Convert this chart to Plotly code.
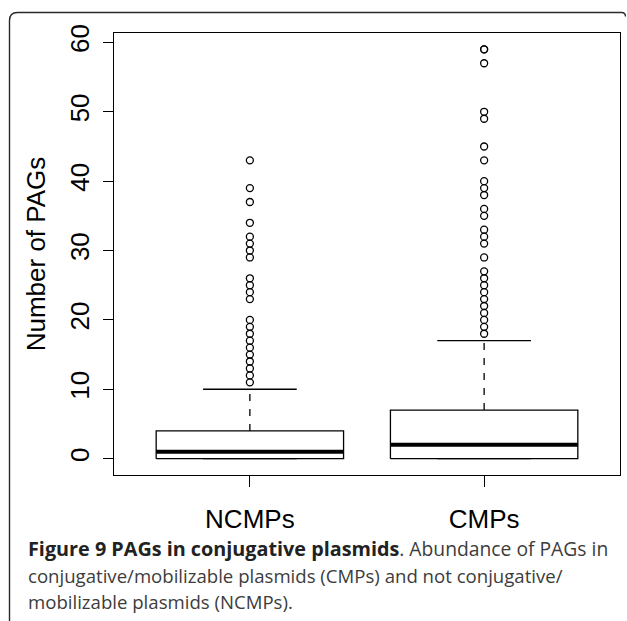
import plotly.graph_objects as go

# ---- data ----
categories = ["NCMPs", "CMPs"]
positions = [1, 2]
q1_vals = [0, 0]
median_vals = [1, 2]
q3_vals = [4, 7]
lower_whisker = [0, 0]
upper_whisker = [10, 17]
outliers_ncmps = [11, 12, 13, 14, 15, 16, 17, 18, 19, 20,
                  23, 24, 25, 26, 29, 30, 31, 32, 34, 37, 39, 43]
outliers_cmps = [18, 19, 20, 21, 22, 23, 24, 25, 26, 27, 29,
                 31, 32, 33, 35, 36, 38, 39, 40, 43, 45, 49, 50, 57, 59, 59]
outliers = [outliers_ncmps, outliers_cmps]
y_ticks = [0, 10, 20, 30, 40, 50, 60]

BOX_HALF = 0.4
STAPLE_HALF = 0.2
LW = 1.3
AXFONT = dict(family="Liberation Sans, Arial, sans-serif", size=26, color="black")

fig = go.Figure()
for i, p in enumerate(positions):
    # box
    fig.add_trace(go.Scatter(
        x=[p - BOX_HALF, p + BOX_HALF, p + BOX_HALF, p - BOX_HALF, p - BOX_HALF],
        y=[q1_vals[i], q1_vals[i], q3_vals[i], q3_vals[i], q1_vals[i]],
        mode="lines", line=dict(color="black", width=LW), hoverinfo="skip"))
    # whiskers (dashed)
    fig.add_trace(go.Scatter(
        x=[p, p], y=[q3_vals[i], upper_whisker[i]], mode="lines",
        line=dict(color="black", width=LW, dash="7px,8px"), hoverinfo="skip"))
    fig.add_trace(go.Scatter(
        x=[p, p], y=[lower_whisker[i], q1_vals[i]], mode="lines",
        line=dict(color="black", width=LW, dash="7px,8px"), hoverinfo="skip"))
    # staples
    fig.add_trace(go.Scatter(
        x=[p - STAPLE_HALF, p + STAPLE_HALF], y=[upper_whisker[i], upper_whisker[i]],
        mode="lines", line=dict(color="black", width=LW), hoverinfo="skip"))
    fig.add_trace(go.Scatter(
        x=[p - STAPLE_HALF, p + STAPLE_HALF], y=[lower_whisker[i], lower_whisker[i]],
        mode="lines", line=dict(color="black", width=LW), hoverinfo="skip"))
    # median (thick)
    fig.add_trace(go.Scatter(
        x=[p - BOX_HALF, p + BOX_HALF], y=[median_vals[i], median_vals[i]],
        mode="lines", line=dict(color="black", width=4), hoverinfo="skip"))
    # outliers
    fig.add_trace(go.Scatter(
        x=[p] * len(outliers[i]), y=outliers[i], mode="markers",
        marker=dict(symbol="circle-open", size=7, color="black", line=dict(width=1.3)),
        hoverinfo="skip"))

# plot area in pixels: x 114..620, y 33..475
W, H = 627, 621
L, R, T, B = 114, 620, 33, 475
def px(x):
    return (x - L) / (R - L)
def py(y):
    return (B - y) / (B - T)

fig.update_layout(
    width=W, height=H,
    margin=dict(l=L, r=W - R, t=T, b=H - B),
    paper_bgcolor="white", plot_bgcolor="white",
    showlegend=False,
    xaxis=dict(range=[0.42, 2.58], tickvals=positions, ticktext=categories,
               showgrid=False, zeroline=False, showline=True, mirror=True,
               linecolor="black", linewidth=LW, ticks="outside", ticklen=11,
               tickwidth=LW, tickcolor="black", tickfont=AXFONT,
               ticklabelstandoff=10, automargin=False),
    yaxis=dict(range=[-2.36, 61.36], tickvals=y_ticks,
               showgrid=False, zeroline=False, showline=True, mirror=True,
               linecolor="black", linewidth=LW, ticks="outside", ticklen=10,
               tickwidth=LW, tickcolor="black", tickfont=AXFONT, tickangle=-90,
               ticklabelstandoff=3,
               title=dict(text="Number of PAGs", font=AXFONT, standoff=12),
               automargin=False),
)

# rounded outer frame (top-left corner)
xl, yt, xr = px(9.5), py(12.5), px(625.5)
rx, ry = 8 / (R - L), 8 / (B - T)
fig.add_shape(type="path", xref="paper", yref="paper",
              path=(f"M {xl},{py(640)} L {xl},{yt - ry} Q {xl},{yt} {xl + rx},{yt} "
                    f"L {xr - rx/2},{yt} Q {xr},{yt} {xr},{yt - ry/2}"),
              line=dict(color="#2a2a2a", width=1.4))

CAP = dict(family="Open Sans, sans-serif", size=18.6, color="#3c3c3c")
caption_lines = [
    "<b><span style='color:#222;font-size:19.8px'>Figure 9 PAGs in conjugative plasmids</span></b>"
    "<span style='font-size:19.3px'>. Abundance of PAGs in</span>",
    "conjugative/mobilizable plasmids (CMPs) and not conjugative/",
    "mobilizable plasmids (NCMPs).",
]
caption_y = [548, 575, 602]
for txt, yy in zip(caption_lines, caption_y):
    fig.add_annotation(text=txt, xref="paper", yref="paper", x=px(26), y=py(yy),
                       xanchor="left", yanchor="middle", showarrow=False, font=CAP)

fig.write_html("out.html")
